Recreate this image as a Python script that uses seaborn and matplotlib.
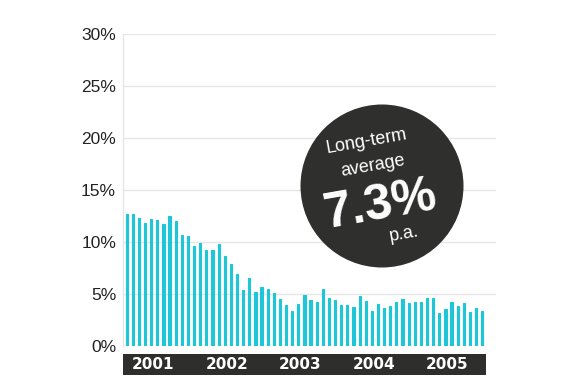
import numpy as np
import pandas as pd
import matplotlib
matplotlib.use("Agg")
import matplotlib.pyplot as plt
from matplotlib.patches import Circle
import seaborn as sns

# Monthly values (%), Jan 2001 onwards
returns = [
    12.7, 12.7, 12.3, 11.8, 12.2, 12.1, 11.7, 12.5, 12.0, 10.7, 10.6, 9.6,
    9.9, 9.2, 9.2, 9.8, 8.7, 7.9, 6.9, 5.4, 6.5, 5.2, 5.7, 5.5,
    5.1, 4.5, 3.9, 3.4, 4.05, 4.9, 4.4, 4.2, 5.5, 4.6, 4.4, 3.95,
    3.9, 3.75, 4.8, 4.3, 3.4, 4.0, 3.7, 3.85, 4.2, 4.5, 4.1, 4.2,
    4.2, 4.65, 4.6, 3.2, 3.6, 4.2, 3.8, 4.1, 3.3, 3.7, 3.4,
]
years = ["2001", "2002", "2003", "2004", "2005"]
y_ticks = [0, 5, 10, 15, 20, 25, 30]
badge_lines = ["Long-term", "average", "7.3%", "p.a."]

df = pd.DataFrame({"month": np.arange(len(returns)), "value": returns})

sns.set_style("white")
plt.rcParams["font.family"] = ["Liberation Sans", "DejaVu Sans"]

W, H = 588, 392
bar_color = "#1fc6d8"
fig = plt.figure(figsize=(W / 100, H / 100), dpi=100)
ax = fig.add_axes([123 / W, 1 - 346 / H, (496 - 123) / W, (346 - 34) / H])

sns.barplot(data=df, x="month", y="value", color=bar_color, width=0.36,
            saturation=1, edgecolor=bar_color, linewidth=0.8, ax=ax, zorder=3)

ax.set_xlim(-0.6, 60.25)
ax.set_ylim(0, 30)
ax.set_yticks(y_ticks)
ax.set_yticklabels([f"{t}%" for t in y_ticks], fontsize=12.5, color="#222222")
ax.set_xticks([])
ax.set_xlabel("")
ax.set_ylabel("")
ax.tick_params(axis="y", length=0, pad=5)
ax.grid(axis="y", color="#e6e6e6", linewidth=1, zorder=0)
for side in ["top", "right", "bottom"]:
    ax.spines[side].set_visible(False)
ax.spines["left"].set_color("#e6e6e6")
ax.spines["left"].set_linewidth(1)

# dark year band under the bars
band = fig.add_axes([123 / W, 1 - 375 / H, (486 - 123) / W, 21 / H])
band.set_facecolor("#2e2f2c")
band.set_xlim(-0.6, 58.6)
band.set_ylim(0, 1)
band.set_xticks([])
band.set_yticks([])
for s in band.spines.values():
    s.set_visible(False)
for i, yr in enumerate(years):
    band.text(4.3 + 12 * i, 0.5, yr, ha="center", va="center", color="white",
              fontsize=11, fontweight="bold", family="DejaVu Sans")

# round badge
circ = Circle((382 / 100, (H - 186) / 100), 0.815, transform=fig.dpi_scale_trans,
              facecolor="#2f302e", edgecolor="none", zorder=10)
fig.patches.append(circ)
rot = 10
fig.text(366 / W, 1 - 142 / H, badge_lines[0], ha="center", va="center",
         color="white", fontsize=13, rotation=rot, zorder=11)
fig.text(373 / W, 1 - 166 / H, badge_lines[1], ha="center", va="center",
         color="white", fontsize=13, rotation=rot, zorder=11)
fig.text(381 / W, 1 - 205 / H, badge_lines[2], ha="center", va="center",
         color="white", fontsize=36, fontweight="bold", rotation=rot, zorder=11)
fig.text(404 / W, 1 - 234 / H, badge_lines[3], ha="center", va="center",
         color="white", fontsize=13, rotation=rot, zorder=11)

fig.savefig("out.png", dpi=100)
